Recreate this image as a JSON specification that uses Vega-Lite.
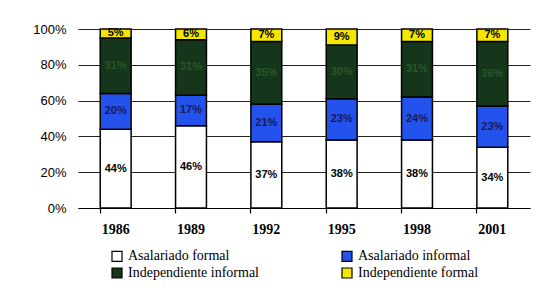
{
  "$schema": "https://vega.github.io/schema/vega-lite/v6.json",
  "width": 452,
  "height": 179,
  "autosize": {"type": "pad"},
  "padding": {"left": 32, "top": 23, "right": 21, "bottom": 5},
  "background": "white",
  "config": {
    "font": "Liberation Serif",
    "view": {"stroke": null},
    "legend": {"labelFont": "Liberation Serif", "labelFontSize": 14, "labelColor": "black"}
  },
  "data": {"values": [
    {"year": "1986", "cat": "Asalariado formal", "k": 1, "value": 44},
    {"year": "1986", "cat": "Asalariado informal", "k": 2, "value": 20},
    {"year": "1986", "cat": "Independiente informal", "k": 3, "value": 31},
    {"year": "1986", "cat": "Independiente formal", "k": 4, "value": 5},
    {"year": "1989", "cat": "Asalariado formal", "k": 1, "value": 46},
    {"year": "1989", "cat": "Asalariado informal", "k": 2, "value": 17},
    {"year": "1989", "cat": "Independiente informal", "k": 3, "value": 31},
    {"year": "1989", "cat": "Independiente formal", "k": 4, "value": 6},
    {"year": "1992", "cat": "Asalariado formal", "k": 1, "value": 37},
    {"year": "1992", "cat": "Asalariado informal", "k": 2, "value": 21},
    {"year": "1992", "cat": "Independiente informal", "k": 3, "value": 35},
    {"year": "1992", "cat": "Independiente formal", "k": 4, "value": 7},
    {"year": "1995", "cat": "Asalariado formal", "k": 1, "value": 38},
    {"year": "1995", "cat": "Asalariado informal", "k": 2, "value": 23},
    {"year": "1995", "cat": "Independiente informal", "k": 3, "value": 30},
    {"year": "1995", "cat": "Independiente formal", "k": 4, "value": 9},
    {"year": "1998", "cat": "Asalariado formal", "k": 1, "value": 38},
    {"year": "1998", "cat": "Asalariado informal", "k": 2, "value": 24},
    {"year": "1998", "cat": "Independiente informal", "k": 3, "value": 31},
    {"year": "1998", "cat": "Independiente formal", "k": 4, "value": 7},
    {"year": "2001", "cat": "Asalariado formal", "k": 1, "value": 34},
    {"year": "2001", "cat": "Asalariado informal", "k": 2, "value": 23},
    {"year": "2001", "cat": "Independiente informal", "k": 3, "value": 36},
    {"year": "2001", "cat": "Independiente formal", "k": 4, "value": 7}
  ]},
  "transform": [
    {"stack": "value", "groupby": ["year"], "sort": [{"field": "k"}], "as": ["v0", "v1"]},
    {"calculate": "(datum.v0 + datum.v1) / 2", "as": "mid"},
    {"calculate": "datum.value + '%'", "as": "lab"}
  ],
  "encoding": {
    "x": {
      "field": "year", "type": "ordinal",
      "scale": {"paddingInner": 0.59, "paddingOuter": 0.295},
      "axis": {
        "title": null, "labelAngle": 0, "bandPosition": 0,
        "domainColor": "black", "domainWidth": 1.2,
        "tickColor": "black", "tickSize": 5, "tickWidth": 1.2,
        "labelFont": "Liberation Serif", "labelFontSize": 14, "labelFontWeight": "bold",
        "labelColor": "black", "labelPadding": 9, "grid": false
      }
    }
  },
  "layer": [
    {
      "mark": {"type": "bar", "stroke": "black", "strokeWidth": 1.5},
      "encoding": {
        "y": {
          "field": "v0", "type": "quantitative",
          "scale": {"domain": [0, 100]},
          "axis": {
            "title": null, "values": [0, 20, 40, 60, 80, 100],
            "labelExpr": "datum.value + '%'", "labelOverlap": false,
            "domain": false, "ticks": false, "grid": true,
            "gridColor": "#222", "gridWidth": 1.2, "gridOpacity": 1,
            "labelFont": "Liberation Sans", "labelFontSize": 13,
            "labelColor": "black", "labelPadding": 12, "labelFlush": false
          }
        },
        "y2": {"field": "v1"},
        "color": {
          "field": "cat", "type": "nominal",
          "sort": ["Asalariado formal", "Asalariado informal", "Independiente informal", "Independiente formal"],
          "scale": {
            "domain": ["Asalariado formal", "Asalariado informal", "Independiente informal", "Independiente formal"],
            "range": ["#ffffff", "#2352ec", "#15361a", "#f4e600"]
          },
          "legend": {
            "title": null, "orient": "none", "legendX": 32, "legendY": 220,
            "columns": 2, "direction": "horizontal", "gridAlign": "all",
            "columnPadding": 79, "rowPadding": 1, "padding": 0,
            "symbolType": "square", "symbolSize": 100, "symbolStrokeColor": "black",
            "symbolStrokeWidth": 1.2, "symbolOpacity": 1,
            "labelFont": "Liberation Serif", "labelFontSize": 14, "labelColor": "black",
            "labelOffset": 4, "labelLimit": 250,
            "encode": {"labels": {"update": {"font": {"value": "Liberation Serif"}, "fontSize": {"value": 14}}}}
          }
        }
      }
    },
    {
      "mark": {"type": "text", "font": "Liberation Sans", "fontSize": 11, "fontWeight": "bold", "baseline": "middle"},
      "encoding": {
        "y": {
          "field": "mid", "type": "quantitative",
          "axis": {
            "title": null, "values": [0, 20, 40, 60, 80, 100],
            "labelExpr": "datum.value + '%'", "labelOverlap": false,
            "domain": false, "ticks": false, "grid": true,
            "gridColor": "#222", "gridWidth": 1.2, "gridOpacity": 1,
            "labelFont": "Liberation Sans", "labelFontSize": 13,
            "labelColor": "black", "labelPadding": 12, "labelFlush": false
          }
        },
        "text": {"field": "lab", "type": "nominal"},
        "color": {
          "condition": [
            {"test": "datum.cat === 'Independiente informal'", "value": "#285828"},
            {"test": "datum.cat === 'Asalariado informal'", "value": "#1a1a55"}
          ],
          "value": "black"
        }
      }
    }
  ]
}
